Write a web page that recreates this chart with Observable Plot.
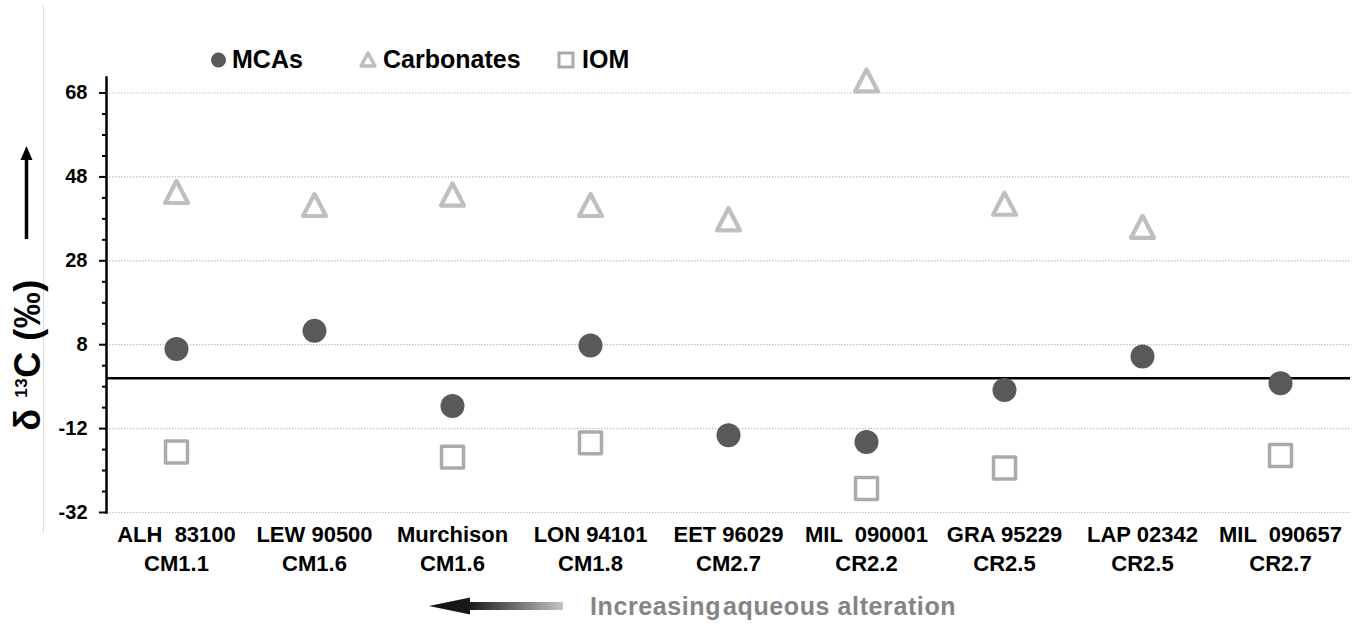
<!DOCTYPE html>
<html>
<head>
<meta charset="utf-8">
<script src="https://cdn.jsdelivr.net/npm/d3@7"></script>
<script src="https://cdn.jsdelivr.net/npm/@observablehq/plot@0.6"></script>
<style>
  html, body { margin: 0; padding: 0; background: #fff; }
  #chart { position: relative; width: 1352px; height: 626px; }
</style>
</head>
<body>
<div id="chart"></div>
<script>
// ---- data ----
const samples = ["ALH \u00a083100", "LEW 90500", "Murchison", "LON 94101", "EET 96029", "MIL \u00a0090001", "GRA 95229", "LAP 02342", "MIL \u00a0090657"];
const classes = ["CM1.1", "CM1.6", "CM1.6", "CM1.8", "CM2.7", "CR2.2", "CR2.5", "CR2.5", "CR2.7"];
const mcas = [7.0, 11.3, -6.6, 7.8, -13.6, -15.2, -2.8, 5.2, -1.2];
const carbonates = [44.4, 41.3, 43.8, 41.3, 37.9, 71.0, 41.6, 36.1, null];
const iom = [-17.6, null, -18.8, -15.4, null, -26.3, -21.4, null, -18.4];
const yMajor = [-32, -12, 8, 28, 48, 68];
const yMinor = d3.range(-27, 70, 5).filter(v => !yMajor.includes(v));

const table = samples.map((s, i) => ({sample: s, cls: classes[i], mca: mcas[i], carb: carbonates[i], iom: iom[i]}));

const font = "'Liberation Sans', Arial, Helvetica, sans-serif";

// isosceles triangle centred on its bounding box
function triangleSymbol(hw, hh) {
  return {draw(context) {
    context.moveTo(0, -hh);
    context.lineTo(hw, hh);
    context.lineTo(-hw, hh);
    context.closePath();
  }};
}

const plot = Plot.plot({
  width: 1352,
  height: 626,
  marginLeft: 106,
  marginRight: 2,
  marginTop: 77,
  marginBottom: 114,
  style: {fontFamily: font, fontWeight: "bold", background: "white", color: "black", overflow: "visible"},
  x: {type: "point", domain: samples, padding: 0.5, axis: null},
  y: {domain: [-32, 71.7], axis: null},
  marks: [
    Plot.gridY(yMajor, {stroke: "#bdbdbd", strokeOpacity: 1, strokeWidth: 1.2, strokeDasharray: "1.4,1.6"}),
    Plot.ruleY([0], {stroke: "black", strokeWidth: 2.5}),
    Plot.frame({anchor: "left", stroke: "black", strokeWidth: 2.5}),
    Plot.axisY({ticks: yMinor, tickSize: 4, tickFormat: () => "", strokeWidth: 2, label: null}),
    Plot.axisY({ticks: yMajor, tickSize: 7, tickPadding: 12, fontSize: 20, fontWeight: "bold", strokeWidth: 2, label: null, tickFormat: d => String(d)}),
    Plot.text(table, {x: "sample", text: "sample", frameAnchor: "bottom", dy: 29, fontSize: 22, fontWeight: "bold", fill: "black"}),
    Plot.text(table, {x: "sample", text: "cls", frameAnchor: "bottom", dy: 58, fontSize: 22, fontWeight: "bold", fill: "black"}),
    Plot.dot(table.filter(d => d.carb != null), {x: "sample", y: "carb", symbol: triangleSymbol(11.5, 11), r: 10, stroke: "#bfbfbf", strokeWidth: 4.2, fill: "white", strokeLinejoin: "round"}),
    Plot.dot(table.filter(d => d.iom != null), {x: "sample", y: "iom", symbol: "square", r: 12.4, stroke: "#ababab", strokeWidth: 3.5, fill: "white", strokeLinejoin: "round"}),
    Plot.dot(table, {x: "sample", y: "mca", symbol: "circle", r: 12, fill: "#595959", stroke: "none"})
  ]
});

document.getElementById("chart").appendChild(plot);

// ---- decorations (legend, axis title, arrows) ----
const svg = d3.select(plot);
const defs = svg.append("defs");
const grad = defs.append("linearGradient").attr("id", "alt-grad").attr("x1", "0").attr("x2", "1").attr("y1", "0").attr("y2", "0");
grad.append("stop").attr("offset", "0").attr("stop-color", "#111");
grad.append("stop").attr("offset", "0.3").attr("stop-color", "#1a1a1a");
grad.append("stop").attr("offset", "1").attr("stop-color", "#c4c4c4");

const deco = svg.append("g").attr("font-family", font).attr("font-weight", "bold").attr("text-anchor", "start");

// faint border line on the left
deco.append("line").attr("x1", 43.5).attr("x2", 43.5).attr("y1", 5).attr("y2", 533).attr("stroke", "#dcdcdc").attr("stroke-width", 1);

// legend
const legend = deco.append("g");
legend.append("circle").attr("cx", 218.5).attr("cy", 60).attr("r", 7.5).attr("fill", "#595959");
legend.append("text").attr("x", 232).attr("y", 68).attr("font-size", 25).attr("fill", "black").text("MCAs");
legend.append("path").attr("d", "M368,53 L375,66 L361,66 Z")
  .attr("fill", "white").attr("stroke", "#bfbfbf").attr("stroke-width", 3.5).attr("stroke-linejoin", "round");
legend.append("text").attr("x", 383).attr("y", 68).attr("font-size", 25).attr("fill", "black").text("Carbonates");
legend.append("rect").attr("x", 559).attr("y", 53).attr("width", 14).attr("height", 14)
  .attr("fill", "white").attr("stroke", "#ababab").attr("stroke-width", 3);
legend.append("text").attr("x", 582).attr("y", 68).attr("font-size", 25).attr("fill", "black").text("IOM");

// y axis title
const ttl = deco.append("text").attr("transform", "translate(39.5,355) rotate(-90)").attr("text-anchor", "middle")
  .attr("font-size", 36).attr("fill", "black").attr("letter-spacing", 0.5);
ttl.append("tspan").text("δ ");
ttl.append("tspan").attr("font-size", 17).attr("dy", -13).text("13");
ttl.append("tspan").attr("dy", 13).text("C (‰)");

// up arrow above the title
deco.append("line").attr("x1", 26.5).attr("x2", 26.5).attr("y1", 239).attr("y2", 156).attr("stroke", "black").attr("stroke-width", 3.5);
deco.append("path").attr("d", "M26.5,146 L32.5,160 L20.5,160 Z").attr("fill", "black");

// bottom arrow + caption
deco.append("path").attr("d", "M429,606 L470,597.5 L470,602 L563,602 L563,610 L470,610 L470,614.5 Z").attr("fill", "url(#alt-grad)");
const cap = deco.append("text").attr("x", 590).attr("y", 615).attr("font-size", 25).attr("fill", "#858585").attr("letter-spacing", 0.6);
cap.append("tspan").text("Increasing");
cap.append("tspan").attr("dx", 2).text("aqueous alteration");
</script>
</body>
</html>
